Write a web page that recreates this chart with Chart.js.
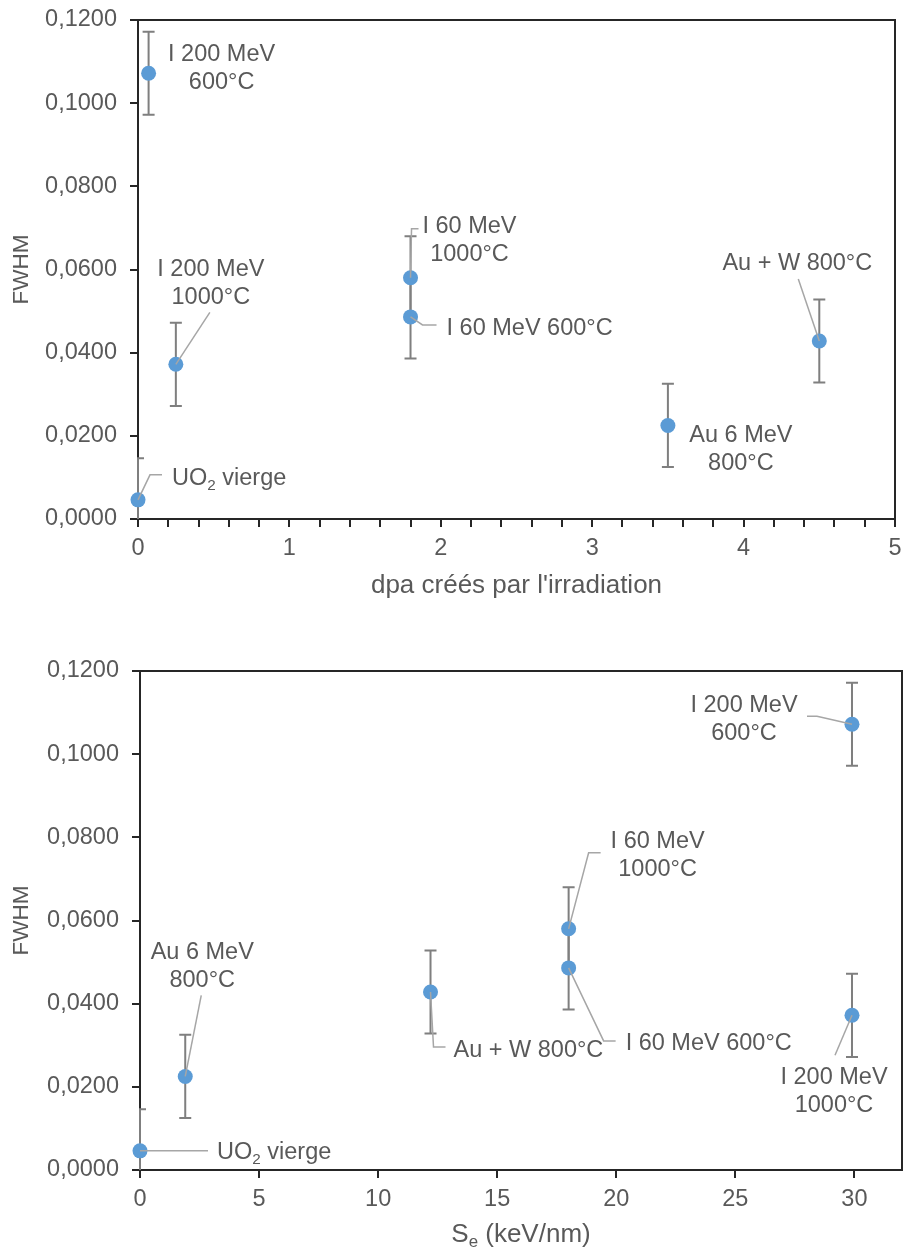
<!DOCTYPE html>
<html>
<head>
<meta charset="utf-8">
<script src="https://cdn.jsdelivr.net/npm/chart.js@4.4.1/dist/chart.umd.min.js"></script>
<style>
  html, body { margin: 0; padding: 0; background: #fff; }
  .box { position: absolute; left: 0; width: 903px; }
  #top { top: 0; height: 625px; }
  #bottom { top: 625px; height: 627px; }
</style>
</head>
<body>
<div class="box" id="top"><canvas id="chartDpa"></canvas></div>
<div class="box" id="bottom"><canvas id="chartSe"></canvas></div>
<script>
// samples, same order everywhere
var samples = ['UO2 vierge', 'I 200 MeV 600°C', 'I 200 MeV 1000°C', 'I 60 MeV 600°C',
               'I 60 MeV 1000°C', 'Au 6 MeV 800°C', 'Au + W 800°C'];
var dpa = [0, 0.07, 0.25, 1.8, 1.8, 3.5, 4.5];
var se = [0, 29.9, 29.9, 18.0, 18.0, 1.9, 12.2];
var fwhm = [0.0046, 0.1072, 0.0372, 0.0486, 0.0580, 0.0225, 0.0428];
var fwhmErr = [0.01, 0.01, 0.01, 0.01, 0.01, 0.01, 0.01];

var FONT = '"Liberation Sans", Arial, sans-serif';
var GREY = '#595959';
var DARK = '#262626';
var FS = 23.5;   // tick + data label size

// data label placement (pixel offsets from the point), "_" = next char subscript
var dpaLabelLayout = [
  { lines: ['UO_2 vierge'], align: 'left', dx: 34, dy: -23, leader: [[12, -25], [24, -25]] },
  { lines: ['I 200 MeV', '600°C'], align: 'center', dx: 73, dy: -7 },
  { lines: ['I 200 MeV', '1000°C'], align: 'center', dx: 35, dy: -83, leader: [[34, -52]] },
  { lines: ['I 60 MeV 600°C'], align: 'left', dx: 36, dy: 10, leader: [[12, 8], [26, 8]] },
  { lines: ['I 60 MeV', '1000°C'], align: 'center', dx: 59, dy: -39, leader: [[1, -49], [8, -49]] },
  { lines: ['Au 6 MeV', '800°C'], align: 'center', dx: 73, dy: 22 },
  { lines: ['Au + W 800°C'], align: 'center', dx: -22, dy: -79, leader: [[-21, -62]] }
];
var seLabelLayout = [
  { lines: ['UO_2 vierge'], align: 'left', dx: 77, dy: 0, leader: [[68, 0]] },
  { lines: ['I 200 MeV', '600°C'], align: 'center', dx: -108, dy: -7, leader: [[-35, -8], [-45, -8]] },
  { lines: ['I 200 MeV', '1000°C'], align: 'center', dx: -18, dy: 74, leader: [[-17, 40]] },
  { lines: ['I 60 MeV 600°C'], align: 'left', dx: 57, dy: 74, leader: [[35, 73], [47, 73]] },
  { lines: ['I 60 MeV', '1000°C'], align: 'center', dx: 89, dy: -75, leader: [[20, -76], [32, -76]] },
  { lines: ['Au 6 MeV', '800°C'], align: 'center', dx: 17, dy: -112, leader: [[16, -81]] },
  { lines: ['Au + W 800°C'], align: 'left', dx: 23, dy: 57, leader: [[3, 55], [15, 55]] }
];

function drawRich(ctx, text, x, baseline, size, align) {
  var parts = [];
  for (var i = 0; i < text.length; i++) {
    if (text[i] === '_') { parts.push({ t: text[i + 1], sub: true }); i++; }
    else if (parts.length && !parts[parts.length - 1].sub) parts[parts.length - 1].t += text[i];
    else parts.push({ t: text[i], sub: false });
  }
  var w = 0;
  parts.forEach(function(p) {
    ctx.font = (p.sub ? size * 0.65 : size) + 'px ' + FONT;
    p.w = ctx.measureText(p.t).width;
    w += p.w;
  });
  var cx = align === 'center' ? x - w / 2 : x;
  ctx.textAlign = 'left';
  ctx.textBaseline = 'alphabetic';
  parts.forEach(function(p) {
    ctx.font = (p.sub ? size * 0.65 : size) + 'px ' + FONT;
    ctx.fillText(p.t, cx, baseline + (p.sub ? size * 0.2 : 0));
    cx += p.w;
  });
}

var decor = {
  id: 'decor',
  beforeDatasetsDraw: function(chart, args, opts) {
    var ctx = chart.ctx, a = chart.chartArea;
    var xs = chart.scales.x, ys = chart.scales.y;
    ctx.save();
    ctx.strokeStyle = DARK;
    ctx.lineWidth = 2;
    ctx.strokeRect(a.left, a.top, a.right - a.left, a.bottom - a.top);

    // error bars, clipped to the plot area
    ctx.beginPath();
    ctx.rect(a.left - 1, a.top, a.right - a.left + 2, a.bottom - a.top);
    ctx.clip();
    ctx.strokeStyle = '#7f7f7f';
    ctx.lineWidth = 2;
    for (var i = 0; i < fwhm.length; i++) {
      var px = xs.getPixelForValue(opts.xValues[i]);
      var hi = ys.getPixelForValue(fwhm[i] + fwhmErr[i]);
      var lo = ys.getPixelForValue(fwhm[i] - fwhmErr[i]);
      ctx.beginPath();
      ctx.moveTo(px, hi); ctx.lineTo(px, lo);
      ctx.moveTo(px - 6, hi); ctx.lineTo(px + 6, hi);
      ctx.moveTo(px - 6, lo); ctx.lineTo(px + 6, lo);
      ctx.stroke();
    }
    ctx.restore();
  },
  afterDatasetsDraw: function(chart, args, opts) {
    var ctx = chart.ctx;
    var xs = chart.scales.x, ys = chart.scales.y;
    ctx.save();
    opts.labels.forEach(function(lab, i) {
      var px = xs.getPixelForValue(opts.xValues[i]);
      var py = ys.getPixelForValue(fwhm[i]);
      if (lab.leader) {
        ctx.strokeStyle = '#a6a6a6';
        ctx.lineWidth = 1.5;
        ctx.beginPath();
        ctx.moveTo(px, py);
        lab.leader.forEach(function(p) { ctx.lineTo(px + p[0], py + p[1]); });
        ctx.stroke();
      }
      ctx.fillStyle = GREY;
      var n = lab.lines.length;
      lab.lines.forEach(function(txt, k) {
        var cy = py + lab.dy + (k - (n - 1) / 2) * 28;
        drawRich(ctx, txt, px + lab.dx, cy + FS * 0.358, FS, lab.align);
      });
    });
    ctx.restore();
  },
  afterDraw: function(chart, args, opts) {
    var ctx = chart.ctx, a = chart.chartArea;
    ctx.save();
    ctx.fillStyle = GREY;
    drawRich(ctx, opts.xTitle, (a.left + a.right) / 2, opts.xTitleBaseline, 26, 'center');
    ctx.translate(22, (a.top + a.bottom) / 2);
    ctx.rotate(-Math.PI / 2);
    ctx.font = '22.5px ' + FONT;
    ctx.textAlign = 'center';
    ctx.textBaseline = 'middle';
    ctx.fillText('FWHM', 0, 0);
    ctx.restore();
  }
};

function makeChart(id, xValues, xMax, xStep, minor, layout, xTitle, titleBase, padTop, padRight, xHeight, yWidth) {
  var points = xValues.map(function(v, i) { return { x: v, y: fwhm[i] }; });
  return new Chart(document.getElementById(id), {
    type: 'scatter',
    data: {
      datasets: [{
        label: 'FWHM',
        data: points,
        backgroundColor: '#5b9bd5',
        borderWidth: 0,
        pointRadius: 7.5,
        pointHoverRadius: 7.5,
        clip: false
      }]
    },
    plugins: [decor],
    options: {
      responsive: true,
      maintainAspectRatio: false,
      animation: false,
      layout: { autoPadding: false, padding: { top: padTop, right: padRight, left: 0, bottom: 0 } },
      plugins: {
        legend: { display: false },
        tooltip: { enabled: false },
        decor: { xValues: xValues, labels: layout, xTitle: xTitle, xTitleBaseline: titleBase }
      },
      scales: {
        x: {
          type: 'linear',
          min: 0,
          max: xMax,
          afterFit: function(s) {
            s.height = xHeight;
            s.paddingLeft = 0; s.paddingRight = 0;
          },
          ticks: {
            stepSize: xStep,
            includeBounds: false,
            autoSkip: false,
            maxRotation: 0,
            padding: 7,
            color: GREY,
            font: { family: FONT, size: FS },
            callback: function(v) {
              if (!minor) return String(v);
              return Math.abs(v - Math.round(v)) < 1e-6 ? String(Math.round(v)) : '';
            }
          },
          grid: { drawOnChartArea: false, color: DARK, lineWidth: 2, tickLength: 8 },
          border: { color: DARK, width: 2 }
        },
        y: {
          min: 0,
          max: 0.12,
          afterFit: function(s) {
            s.width = yWidth;
            s.paddingTop = 0; s.paddingBottom = 0;
          },
          ticks: {
            stepSize: 0.02,
            padding: 13,
            color: GREY,
            font: { family: FONT, size: FS },
            callback: function(v) { return v.toFixed(4).replace('.', ','); }
          },
          grid: { drawOnChartArea: false, color: DARK, lineWidth: 2, tickLength: 8 },
          border: { color: DARK, width: 2 }
        }
      }
    }
  });
}

var chartDpa = makeChart('chartDpa', dpa, 5, 0.2, true, dpaLabelLayout,
  "dpa créés par l'irradiation", 593, 20, 8, 106, 138);
var chartSe = makeChart('chartSe', se, 32, 5, false, seLabelLayout,
  'S_e (keV/nm)', 617, 46, 1, 82, 140);
</script>
</body>
</html>
